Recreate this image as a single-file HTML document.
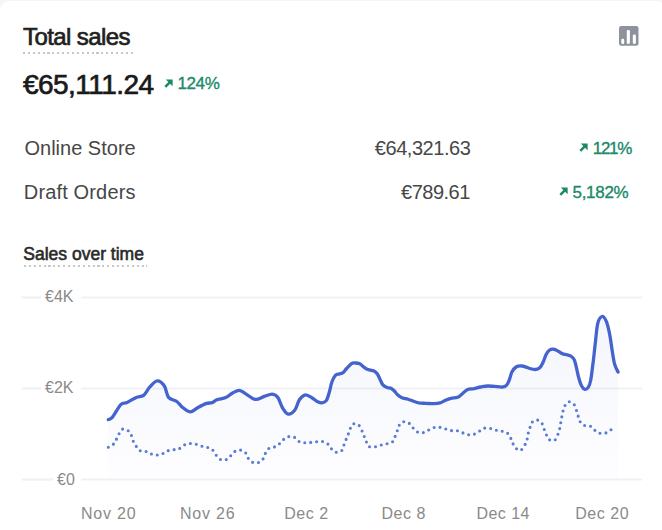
<!DOCTYPE html>
<html><head><meta charset="utf-8">
<style>
html,body{margin:0;padding:0;}
body{width:662px;height:530px;overflow:hidden;background:#f5f6f8;position:relative;font-family:"Liberation Sans",sans-serif;}
.card{position:absolute;left:0;top:1px;width:666px;height:560px;background:#fff;border-radius:10px;}
.t{position:absolute;white-space:nowrap;line-height:1;}
.title{font-weight:400;font-size:24px;color:#1f1f1f;letter-spacing:-0.6px;-webkit-text-stroke:0.7px #1f1f1f;}
.dot-ul{position:absolute;height:2px;background:repeating-linear-gradient(to right,#c8c8c8 0 2px,transparent 2px 4.9px);}
.big{font-weight:400;font-size:28px;color:#1a1a1a;letter-spacing:-0.55px;-webkit-text-stroke:0.7px #1a1a1a;}
.pct{font-size:17px;color:#21896a;-webkit-text-stroke:0.35px #21896a;}
.lbl{font-size:20px;color:#474747;}
.val{font-size:20px;color:#474747;text-align:right;}
.ax{font-size:16px;color:#8a8a8a;}
.sub{font-weight:400;font-size:17.5px;color:#2a2a2a;letter-spacing:0px;-webkit-text-stroke:0.6px #2a2a2a;}
</style></head><body>
<div class="card"></div>
<div class="t title" style="left:23px;top:24.5px">Total sales</div>
<div class="dot-ul" style="left:23.3px;top:51.8px;width:110px"></div>
<svg style="position:absolute;left:619px;top:25.7px" width="20" height="20" viewBox="0 0 20 20">
<rect x="0" y="0" width="19.5" height="19.8" rx="2.2" fill="#8d939c"/>
<rect x="2.3" y="12.7" width="2.9" height="5.2" rx="1.2" fill="#fff"/>
<rect x="7.8" y="4" width="3.1" height="13.9" rx="1.3" fill="#fff"/>
<rect x="13.8" y="8.5" width="3.1" height="9.4" rx="1.3" fill="#fff"/>
</svg>
<div class="t big" style="left:23px;top:71.3px">€65,111.24</div>
<svg style="position:absolute;left:164px;top:79.4px" width="9" height="9" viewBox="0 0 9 9"><path d="M1.8 0.5H8.6V7.3Z" fill="#1a8a62"/><path d="M6.2 2.9L1.3 7.8" stroke="#1a8a62" stroke-width="2.5"/></svg>
<div class="t pct" style="left:177.5px;top:74.9px;letter-spacing:-0.4px">124%</div>

<div class="t lbl" style="left:24.5px;top:137.9px">Online Store</div>
<div class="t val" style="right:191.6px;top:137.9px;letter-spacing:-0.45px">€64,321.63</div>
<svg style="position:absolute;left:579.4px;top:143.3px" width="9" height="9" viewBox="0 0 9 9"><path d="M1.8 0.5H8.6V7.3Z" fill="#1a8a62"/><path d="M6.2 2.9L1.3 7.8" stroke="#1a8a62" stroke-width="2.5"/></svg>
<div class="t pct" style="left:592.8px;top:139.7px;letter-spacing:-1.3px">121%</div>

<div class="t lbl" style="left:23.8px;top:182.3px;letter-spacing:0.15px">Draft Orders</div>
<div class="t val" style="right:192.2px;top:182.3px;letter-spacing:-0.5px">€789.61</div>
<svg style="position:absolute;left:558.8px;top:187px" width="9" height="9" viewBox="0 0 9 9"><path d="M1.8 0.5H8.6V7.3Z" fill="#1a8a62"/><path d="M6.2 2.9L1.3 7.8" stroke="#1a8a62" stroke-width="2.5"/></svg>
<div class="t pct" style="left:572.5px;top:183.5px;letter-spacing:-0.3px">5,182%</div>

<div class="t sub" style="left:23.3px;top:246.4px">Sales over time</div>
<div class="dot-ul" style="left:23.5px;top:264.6px;width:123px"></div>

<svg style="position:absolute;left:0;top:0" width="662" height="530" viewBox="0 0 662 530">
<defs><filter id="bl" x="-5%" y="-20%" width="110%" height="140%"><feGaussianBlur stdDeviation="0.45"/></filter><linearGradient id="g" x1="0" y1="0" x2="0" y2="1"><stop offset="0" stop-color="#5b6fd6" stop-opacity="0.065"/><stop offset="1" stop-color="#5b6fd6" stop-opacity="0.01"/></linearGradient></defs>
<g stroke="#f0f1f3" stroke-width="2.2">
<line x1="22" y1="297.5" x2="41" y2="297.5"/><line x1="81.5" y1="297.5" x2="642" y2="297.5"/>
<line x1="22" y1="388.5" x2="41" y2="388.5"/><line x1="81.5" y1="388.5" x2="642" y2="388.5"/>
<line x1="22" y1="479.5" x2="53.5" y2="479.5"/><line x1="81.5" y1="479.5" x2="642" y2="479.5"/>
</g>
<path d="M108.3,419.6 C109.0,419.2 110.4,419.6 112.5,417.1 C114.6,414.6 118.4,407.0 120.8,404.6 C123.2,402.2 124.4,403.8 127.0,402.6 C129.6,401.4 133.5,398.6 136.3,397.4 C139.1,396.2 141.3,397.0 143.6,395.3 C145.8,393.6 147.6,389.4 149.8,387.0 C152.1,384.6 154.7,381.0 157.1,380.8 C159.5,380.6 162.5,383.2 164.4,386.0 C166.3,388.8 166.4,394.8 168.5,397.4 C170.6,400.0 174.4,399.8 176.8,401.5 C179.2,403.2 180.8,406.0 183.0,407.7 C185.2,409.4 187.9,411.9 190.3,411.9 C192.7,411.9 195.0,409.1 197.6,407.7 C200.2,406.3 203.5,404.5 205.9,403.6 C208.3,402.8 210.3,403.2 212.1,402.6 C213.9,402.0 214.5,400.7 216.8,399.8 C219.1,398.9 223.2,398.6 225.8,397.5 C228.4,396.4 230.3,394.2 232.6,393.0 C234.9,391.8 237.1,390.1 239.4,390.3 C241.7,390.5 243.5,392.6 246.2,394.1 C248.8,395.6 252.3,399.0 255.3,399.4 C258.3,399.8 261.5,397.3 264.3,396.4 C267.1,395.5 270.0,393.9 272.3,394.1 C274.6,394.3 276.2,395.2 277.9,397.5 C279.6,399.8 280.7,404.9 282.4,407.7 C284.1,410.5 286.0,413.7 288.1,414.1 C290.2,414.5 293.0,412.4 294.9,410.0 C296.8,407.6 297.6,402.3 299.4,399.8 C301.2,397.3 303.4,395.2 305.5,394.9 C307.6,394.6 310.4,396.9 312.3,398.0 C314.2,399.1 315.6,400.6 317.2,401.4 C318.8,402.2 320.6,403.1 322.1,402.9 C323.6,402.7 325.2,402.2 326.4,400.4 C327.6,398.5 328.5,394.9 329.4,391.8 C330.3,388.7 330.9,384.8 331.9,382.0 C332.9,379.2 334.4,376.5 335.6,375.2 C336.8,373.9 338.1,374.4 339.3,374.0 C340.5,373.6 341.7,373.7 342.9,372.8 C344.1,371.9 345.2,370.0 346.6,368.5 C348.0,367.0 350.1,364.5 351.5,363.6 C352.9,362.7 353.8,363.0 355.2,363.0 C356.6,363.0 358.5,363.2 359.8,363.8 C361.1,364.4 362.0,365.7 363.2,366.6 C364.4,367.5 365.4,368.6 367.2,369.3 C369.0,370.0 372.3,370.2 374.0,371.0 C375.7,371.8 376.4,372.6 377.4,374.0 C378.4,375.4 379.2,377.7 380.1,379.5 C381.0,381.3 381.8,383.6 382.9,384.9 C384.0,386.2 385.6,386.8 387.0,387.4 C388.4,388.0 389.8,387.7 391.0,388.3 C392.2,388.9 393.3,389.9 394.4,391.0 C395.5,392.1 396.6,394.0 397.8,395.1 C399.1,396.2 400.2,397.1 401.9,397.8 C403.6,398.5 406.1,398.6 408.0,399.2 C409.9,399.8 411.7,400.6 413.5,401.2 C415.3,401.8 416.9,402.5 418.9,402.9 C420.9,403.2 423.2,403.2 425.7,403.3 C428.2,403.4 431.4,403.8 433.8,403.7 C436.2,403.6 438.1,403.5 440.0,402.9 C441.9,402.3 443.6,401.1 445.4,400.3 C447.2,399.5 448.8,398.8 450.9,398.3 C452.9,397.8 455.9,398.0 457.7,397.3 C459.5,396.6 460.2,395.5 461.8,394.2 C463.4,392.9 465.2,390.6 467.2,389.7 C469.2,388.8 471.7,389.1 474.0,388.7 C476.3,388.2 478.5,387.4 480.8,387.0 C483.1,386.6 485.3,386.1 487.6,386.0 C489.9,385.9 491.9,386.2 494.4,386.4 C496.9,386.6 500.5,387.2 502.5,387.0 C504.5,386.8 505.5,386.3 506.6,385.1 C507.7,383.9 508.4,382.1 509.3,379.9 C510.2,377.7 510.9,373.9 512.0,371.8 C513.1,369.7 514.5,368.0 516.1,367.0 C517.7,366.0 519.8,365.9 521.6,366.0 C523.4,366.1 525.7,367.0 527.0,367.4 C528.3,367.8 528.1,368.0 529.5,368.4 C530.9,368.8 533.5,369.6 535.2,369.5 C536.9,369.4 538.4,369.0 539.7,367.8 C541.0,366.6 542.1,364.4 543.1,362.2 C544.1,360.0 545.0,356.8 546.0,354.8 C547.0,352.8 548.1,351.2 549.3,350.3 C550.5,349.4 551.9,349.1 553.3,349.2 C554.7,349.3 556.3,350.1 557.8,350.9 C559.3,351.6 560.9,353.0 562.4,353.7 C563.9,354.4 565.4,354.3 566.9,354.8 C568.4,355.3 570.2,355.6 571.4,356.5 C572.6,357.4 573.4,358.0 574.3,359.9 C575.1,361.8 575.8,364.8 576.5,367.8 C577.2,370.8 577.9,375.0 578.8,378.0 C579.6,381.0 580.6,384.1 581.6,386.0 C582.6,387.9 583.9,389.2 585.0,389.4 C586.1,389.6 587.4,388.6 588.4,387.1 C589.4,385.6 589.9,384.3 590.7,380.3 C591.5,376.3 592.2,369.3 593.0,363.3 C593.8,357.3 594.4,350.7 595.2,344.1 C596.0,337.5 596.6,328.3 597.7,323.7 C598.8,319.1 600.6,316.9 602.0,316.5 C603.4,316.1 604.9,318.2 606.2,321.1 C607.5,324.0 608.6,328.9 609.6,333.9 C610.6,338.8 611.4,345.7 612.2,350.8 C613.1,355.9 613.7,360.8 614.7,364.4 C615.7,367.9 617.5,370.8 618.1,372.1 L618.1,479.5 L108.3,479.5 Z" fill="url(#g)"/>
<path d="M108.3,447.2 C109.2,446.7 112.1,445.5 113.5,444.1 C114.9,442.7 115.2,441.3 116.6,438.9 C118.0,436.5 119.9,430.9 121.8,429.5 C123.7,428.1 126.5,429.7 128.0,430.6 C129.6,431.5 130.2,433.0 131.1,434.7 C132.0,436.4 131.8,438.4 133.2,441.0 C134.6,443.6 137.3,448.6 139.4,450.3 C141.5,452.0 143.8,450.7 145.7,451.3 C147.6,451.9 149.1,453.2 150.9,453.8 C152.7,454.4 154.6,455.1 156.5,455.1 C158.4,455.1 160.5,454.5 162.3,453.8 C164.1,453.1 165.6,451.6 167.5,450.9 C169.4,450.2 171.8,450.0 173.7,449.7 C175.6,449.4 177.2,449.7 178.9,448.9 C180.6,448.1 182.3,446.0 184.1,445.1 C185.9,444.2 187.8,443.7 189.7,443.5 C191.6,443.3 193.5,443.7 195.5,444.1 C197.5,444.6 199.8,445.7 201.7,446.2 C203.6,446.7 205.2,446.6 206.9,447.2 C208.7,447.8 210.7,448.4 212.2,449.6 C213.7,450.8 214.4,453.0 215.7,454.6 C217.0,456.2 218.5,458.4 220.2,459.3 C221.9,460.2 224.1,460.4 225.8,459.8 C227.5,459.2 228.9,457.4 230.4,456.0 C231.9,454.6 233.2,452.4 234.9,451.4 C236.6,450.4 238.8,449.8 240.6,450.1 C242.4,450.4 244.5,451.6 245.8,453.0 C247.1,454.4 247.3,457.1 248.5,458.7 C249.7,460.3 251.3,461.9 253.0,462.5 C254.7,463.1 257.0,463.1 258.7,462.5 C260.4,461.9 262.1,460.3 263.2,458.7 C264.3,457.1 264.6,454.7 265.5,453.0 C266.4,451.3 267.4,449.5 268.9,448.5 C270.4,447.5 272.8,447.6 274.5,446.9 C276.2,446.1 277.6,445.2 279.1,444.0 C280.6,442.8 282.1,440.6 283.6,439.4 C285.1,438.2 286.3,437.1 288.1,436.7 C289.9,436.3 292.3,436.4 294.2,437.2 C296.1,438.0 297.6,440.8 299.4,441.7 C301.2,442.6 303.2,442.7 305.1,442.8 C307.0,442.9 308.8,442.6 310.7,442.4 C312.6,442.2 314.4,441.8 316.4,441.7 C318.3,441.6 320.5,441.1 322.4,441.5 C324.3,441.9 326.4,442.9 327.9,444.1 C329.4,445.3 330.0,447.4 331.3,448.7 C332.6,450.0 334.1,451.7 335.8,452.1 C337.5,452.5 340.2,452.0 341.5,450.9 C342.8,449.8 343.1,447.2 343.8,445.3 C344.6,443.4 345.2,441.5 346.0,439.6 C346.8,437.7 347.5,436.0 348.3,434.0 C349.1,432.0 349.7,429.5 350.6,427.8 C351.5,426.1 352.2,424.3 353.5,423.8 C354.8,423.3 357.1,423.8 358.5,424.9 C359.9,426.0 361.0,428.7 361.9,430.6 C362.8,432.5 363.4,434.3 364.1,436.2 C364.9,438.1 365.6,440.2 366.4,441.9 C367.2,443.6 367.4,445.6 368.7,446.4 C370.0,447.2 372.4,447.1 374.3,446.9 C376.2,446.7 378.1,445.8 380.0,445.3 C381.9,444.8 383.7,444.6 385.7,444.1 C387.7,443.6 390.5,443.4 392.0,442.3 C393.5,441.2 393.9,439.2 394.7,437.4 C395.5,435.6 396.3,433.6 397.0,431.7 C397.7,429.8 397.9,427.6 398.8,426.0 C399.7,424.4 401.0,422.6 402.6,422.0 C404.2,421.4 406.7,421.7 408.3,422.6 C409.9,423.5 411.0,425.7 412.4,427.2 C413.8,428.7 415.2,430.8 416.9,431.7 C418.5,432.6 420.5,433.0 422.3,432.8 C424.1,432.6 425.7,431.4 427.5,430.6 C429.3,429.8 431.3,428.4 433.2,427.8 C435.1,427.2 437.0,427.1 438.9,427.2 C440.8,427.3 442.7,428.1 444.7,428.7 C446.7,429.3 448.8,430.3 450.8,430.6 C452.8,430.9 454.9,430.3 456.7,430.6 C458.5,430.9 459.9,431.7 461.7,432.4 C463.5,433.1 465.5,434.2 467.4,434.6 C469.3,435.0 471.1,435.1 473.0,434.6 C474.9,434.1 476.9,432.8 478.7,431.7 C480.5,430.6 482.0,428.9 483.9,428.3 C485.8,427.7 488.0,428.0 490.0,428.3 C492.0,428.6 493.8,429.7 495.7,430.1 C497.6,430.6 499.4,430.6 501.3,431.0 C503.2,431.4 505.5,431.7 507.0,432.8 C508.5,433.9 509.5,435.7 510.4,437.4 C511.3,439.1 511.7,441.2 512.6,443.0 C513.5,444.8 514.7,447.0 516.0,448.2 C517.3,449.4 519.2,450.8 520.6,450.3 C522.0,449.8 523.6,446.9 524.6,445.3 C525.6,443.7 526.2,442.5 526.8,440.6 C527.4,438.7 527.5,436.2 528.0,434.1 C528.5,432.0 529.2,430.0 529.8,428.1 C530.4,426.2 530.6,423.9 531.8,422.5 C533.0,421.1 535.2,419.8 536.8,419.9 C538.4,420.0 540.4,421.5 541.6,422.9 C542.8,424.3 543.1,426.6 543.9,428.5 C544.6,430.4 545.3,432.3 546.1,434.1 C546.9,435.9 547.5,438.4 548.9,439.4 C550.3,440.4 553.1,441.0 554.5,440.3 C555.9,439.6 556.7,437.0 557.5,435.3 C558.3,433.6 558.9,431.9 559.4,430.0 C559.9,428.1 560.1,426.0 560.5,424.0 C560.9,422.0 561.2,419.9 561.6,417.9 C562.0,415.9 562.3,413.8 562.8,411.9 C563.3,409.9 563.6,407.9 564.6,406.2 C565.6,404.5 567.0,402.2 568.5,401.8 C570.0,401.4 572.3,402.8 573.6,404.0 C574.9,405.2 575.4,407.4 576.1,409.3 C576.8,411.2 577.3,413.2 577.9,415.2 C578.5,417.1 578.7,419.3 579.7,421.0 C580.7,422.7 582.2,424.4 583.9,425.2 C585.6,426.0 588.2,425.2 590.0,426.0 C591.8,426.8 593.0,428.8 594.5,430.0 C596.0,431.2 597.5,432.6 599.3,433.1 C601.1,433.6 603.5,433.6 605.4,433.1 C607.3,432.6 608.9,431.0 610.6,430.0 C612.3,429.0 614.8,427.5 615.6,427.0" fill="none" stroke="#5a7bd6" stroke-width="3.1" stroke-linecap="round" stroke-dasharray="0 5.95" filter="url(#bl)"/>
<path d="M108.3,419.6 C109.0,419.2 110.4,419.6 112.5,417.1 C114.6,414.6 118.4,407.0 120.8,404.6 C123.2,402.2 124.4,403.8 127.0,402.6 C129.6,401.4 133.5,398.6 136.3,397.4 C139.1,396.2 141.3,397.0 143.6,395.3 C145.8,393.6 147.6,389.4 149.8,387.0 C152.1,384.6 154.7,381.0 157.1,380.8 C159.5,380.6 162.5,383.2 164.4,386.0 C166.3,388.8 166.4,394.8 168.5,397.4 C170.6,400.0 174.4,399.8 176.8,401.5 C179.2,403.2 180.8,406.0 183.0,407.7 C185.2,409.4 187.9,411.9 190.3,411.9 C192.7,411.9 195.0,409.1 197.6,407.7 C200.2,406.3 203.5,404.5 205.9,403.6 C208.3,402.8 210.3,403.2 212.1,402.6 C213.9,402.0 214.5,400.7 216.8,399.8 C219.1,398.9 223.2,398.6 225.8,397.5 C228.4,396.4 230.3,394.2 232.6,393.0 C234.9,391.8 237.1,390.1 239.4,390.3 C241.7,390.5 243.5,392.6 246.2,394.1 C248.8,395.6 252.3,399.0 255.3,399.4 C258.3,399.8 261.5,397.3 264.3,396.4 C267.1,395.5 270.0,393.9 272.3,394.1 C274.6,394.3 276.2,395.2 277.9,397.5 C279.6,399.8 280.7,404.9 282.4,407.7 C284.1,410.5 286.0,413.7 288.1,414.1 C290.2,414.5 293.0,412.4 294.9,410.0 C296.8,407.6 297.6,402.3 299.4,399.8 C301.2,397.3 303.4,395.2 305.5,394.9 C307.6,394.6 310.4,396.9 312.3,398.0 C314.2,399.1 315.6,400.6 317.2,401.4 C318.8,402.2 320.6,403.1 322.1,402.9 C323.6,402.7 325.2,402.2 326.4,400.4 C327.6,398.5 328.5,394.9 329.4,391.8 C330.3,388.7 330.9,384.8 331.9,382.0 C332.9,379.2 334.4,376.5 335.6,375.2 C336.8,373.9 338.1,374.4 339.3,374.0 C340.5,373.6 341.7,373.7 342.9,372.8 C344.1,371.9 345.2,370.0 346.6,368.5 C348.0,367.0 350.1,364.5 351.5,363.6 C352.9,362.7 353.8,363.0 355.2,363.0 C356.6,363.0 358.5,363.2 359.8,363.8 C361.1,364.4 362.0,365.7 363.2,366.6 C364.4,367.5 365.4,368.6 367.2,369.3 C369.0,370.0 372.3,370.2 374.0,371.0 C375.7,371.8 376.4,372.6 377.4,374.0 C378.4,375.4 379.2,377.7 380.1,379.5 C381.0,381.3 381.8,383.6 382.9,384.9 C384.0,386.2 385.6,386.8 387.0,387.4 C388.4,388.0 389.8,387.7 391.0,388.3 C392.2,388.9 393.3,389.9 394.4,391.0 C395.5,392.1 396.6,394.0 397.8,395.1 C399.1,396.2 400.2,397.1 401.9,397.8 C403.6,398.5 406.1,398.6 408.0,399.2 C409.9,399.8 411.7,400.6 413.5,401.2 C415.3,401.8 416.9,402.5 418.9,402.9 C420.9,403.2 423.2,403.2 425.7,403.3 C428.2,403.4 431.4,403.8 433.8,403.7 C436.2,403.6 438.1,403.5 440.0,402.9 C441.9,402.3 443.6,401.1 445.4,400.3 C447.2,399.5 448.8,398.8 450.9,398.3 C452.9,397.8 455.9,398.0 457.7,397.3 C459.5,396.6 460.2,395.5 461.8,394.2 C463.4,392.9 465.2,390.6 467.2,389.7 C469.2,388.8 471.7,389.1 474.0,388.7 C476.3,388.2 478.5,387.4 480.8,387.0 C483.1,386.6 485.3,386.1 487.6,386.0 C489.9,385.9 491.9,386.2 494.4,386.4 C496.9,386.6 500.5,387.2 502.5,387.0 C504.5,386.8 505.5,386.3 506.6,385.1 C507.7,383.9 508.4,382.1 509.3,379.9 C510.2,377.7 510.9,373.9 512.0,371.8 C513.1,369.7 514.5,368.0 516.1,367.0 C517.7,366.0 519.8,365.9 521.6,366.0 C523.4,366.1 525.7,367.0 527.0,367.4 C528.3,367.8 528.1,368.0 529.5,368.4 C530.9,368.8 533.5,369.6 535.2,369.5 C536.9,369.4 538.4,369.0 539.7,367.8 C541.0,366.6 542.1,364.4 543.1,362.2 C544.1,360.0 545.0,356.8 546.0,354.8 C547.0,352.8 548.1,351.2 549.3,350.3 C550.5,349.4 551.9,349.1 553.3,349.2 C554.7,349.3 556.3,350.1 557.8,350.9 C559.3,351.6 560.9,353.0 562.4,353.7 C563.9,354.4 565.4,354.3 566.9,354.8 C568.4,355.3 570.2,355.6 571.4,356.5 C572.6,357.4 573.4,358.0 574.3,359.9 C575.1,361.8 575.8,364.8 576.5,367.8 C577.2,370.8 577.9,375.0 578.8,378.0 C579.6,381.0 580.6,384.1 581.6,386.0 C582.6,387.9 583.9,389.2 585.0,389.4 C586.1,389.6 587.4,388.6 588.4,387.1 C589.4,385.6 589.9,384.3 590.7,380.3 C591.5,376.3 592.2,369.3 593.0,363.3 C593.8,357.3 594.4,350.7 595.2,344.1 C596.0,337.5 596.6,328.3 597.7,323.7 C598.8,319.1 600.6,316.9 602.0,316.5 C603.4,316.1 604.9,318.2 606.2,321.1 C607.5,324.0 608.6,328.9 609.6,333.9 C610.6,338.8 611.4,345.7 612.2,350.8 C613.1,355.9 613.7,360.8 614.7,364.4 C615.7,367.9 617.5,370.8 618.1,372.1" fill="none" stroke="#4563cf" stroke-width="3.3" stroke-linecap="round" stroke-linejoin="round" filter="url(#bl)"/>
</svg>
<div class="t ax" style="left:45px;top:289px">€4K</div>
<div class="t ax" style="left:45px;top:380.3px">€2K</div>
<div class="t ax" style="left:57px;top:471.7px">€0</div>

<div class="t ax" style="left:81px;top:505.5px;letter-spacing:0.8px">Nov 20</div>
<div class="t ax" style="left:180px;top:505.5px;letter-spacing:0.8px">Nov 26</div>
<div class="t ax" style="left:284.3px;top:505.5px;letter-spacing:0.5px">Dec 2</div>
<div class="t ax" style="left:381.5px;top:505.5px;letter-spacing:0.5px">Dec 8</div>
<div class="t ax" style="left:476.5px;top:505.5px;letter-spacing:0.45px">Dec 14</div>
<div class="t ax" style="left:575.2px;top:505.5px;letter-spacing:0.55px">Dec 20</div>
</body></html>
